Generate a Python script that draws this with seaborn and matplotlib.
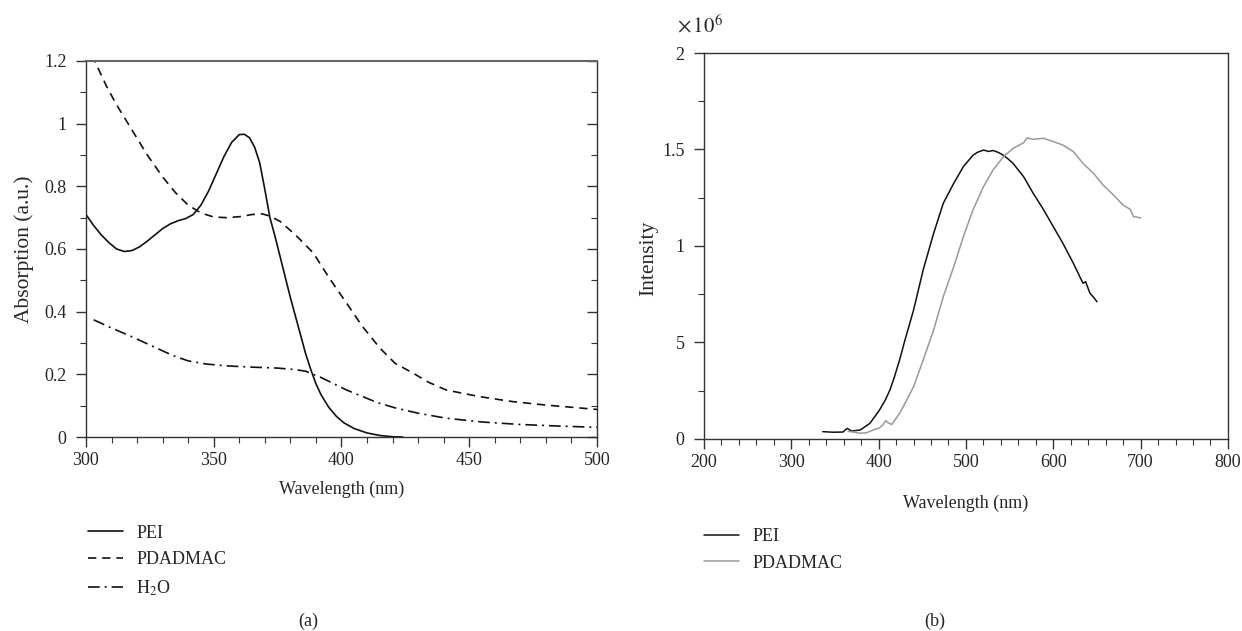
import numpy as np
import pandas as pd
import matplotlib
matplotlib.use('Agg')
import matplotlib.pyplot as plt
from matplotlib.ticker import MultipleLocator, FixedLocator, FixedFormatter
import seaborn as sns

# Absorption spectra (a)
abs_wl_pei = [300, 303, 306, 309, 312, 315, 318, 321, 324, 327, 330, 333, 336, 339, 342,
              345, 348, 351, 354, 357, 360, 362, 364, 366, 368, 370, 372, 374, 376, 378,
              380, 382, 384, 386, 388, 390, 392, 395, 398, 401, 405, 410, 415, 420, 424]
abs_pei = [0.71, 0.675, 0.645, 0.62, 0.60, 0.592, 0.595, 0.607, 0.625, 0.645, 0.665, 0.68,
           0.69, 0.697, 0.71, 0.74, 0.785, 0.84, 0.895, 0.94, 0.965, 0.966, 0.955, 0.925,
           0.875, 0.79, 0.70, 0.64, 0.575, 0.51, 0.445, 0.385, 0.325, 0.265, 0.215, 0.17,
           0.135, 0.095, 0.066, 0.045, 0.027, 0.013, 0.005, 0.001, 0.0]

abs_wl_pda = [300, 304, 308, 312, 318, 324, 330, 335, 340, 345, 350, 355, 360, 365, 369,
              372, 376, 382, 389, 395, 402, 408, 415, 421, 428, 434, 441, 454, 467, 480, 500]
abs_pda = [1.26, 1.19, 1.12, 1.06, 0.98, 0.90, 0.83, 0.78, 0.74, 0.715, 0.702, 0.70,
           0.703, 0.71, 0.712, 0.705, 0.688, 0.645, 0.587, 0.51, 0.427, 0.355, 0.284,
           0.235, 0.204, 0.175, 0.15, 0.129, 0.113, 0.102, 0.088]

abs_wl_h2o = [303, 310, 318, 326, 334, 340, 347, 355, 365, 375, 382, 386, 392, 397, 402,
              408, 414, 421, 430, 441, 455, 470, 485, 500]
abs_h2o = [0.374, 0.348, 0.32, 0.29, 0.26, 0.243, 0.233, 0.227, 0.223, 0.22, 0.215, 0.21,
           0.19, 0.17, 0.15, 0.13, 0.11, 0.093, 0.076, 0.06, 0.048, 0.04, 0.035, 0.031]

# Emission spectra (b), intensity x 10^6
em_wl_pei = [336, 348, 359, 364, 369, 379, 390, 401, 408, 413, 418, 424, 430, 440, 451, 463,
             474, 486, 497, 508, 513, 520, 526, 531, 537, 543, 548, 554, 566, 577, 589,
             600, 611, 623, 634, 637, 642, 646, 650]
em_pei = [0.038, 0.035, 0.036, 0.055, 0.041, 0.047, 0.081, 0.15, 0.205, 0.255, 0.32, 0.41,
          0.51, 0.668, 0.876, 1.066, 1.221, 1.325, 1.411, 1.47, 1.485, 1.497, 1.49, 1.495,
          1.485, 1.47, 1.452, 1.428, 1.359, 1.273, 1.187, 1.10, 1.014, 0.91, 0.807, 0.815,
          0.755, 0.735, 0.711]

em_wl_pda = [365, 372, 379, 386, 394, 401, 405, 408, 411, 415, 424, 432, 440, 451, 463,
             474, 486, 497, 508, 520, 531, 543, 554, 566, 570, 577, 589, 600, 611, 623,
             634, 646, 657, 669, 680, 688, 692, 696, 700]
em_pda = [0.04, 0.035, 0.03, 0.032, 0.047, 0.058, 0.073, 0.095, 0.083, 0.075, 0.133, 0.2,
          0.271, 0.409, 0.565, 0.737, 0.893, 1.048, 1.187, 1.307, 1.394, 1.463, 1.506,
          1.535, 1.56, 1.553, 1.558, 1.541, 1.523, 1.489, 1.428, 1.377, 1.316, 1.264,
          1.212, 1.19, 1.152, 1.15, 1.144]

int_ticks = [0, 0.5, 1, 1.5, 2]
int_labels = ['0', '5', '1', '1.5', '2']

sns.set_style('ticks')
plt.rcParams['font.family'] = ['Liberation Serif', 'DejaVu Serif']
plt.rcParams['mathtext.fontset'] = 'stix'
plt.rcParams['font.size'] = 13

fig = plt.figure(figsize=(12.42, 6.31), dpi=100)
ax1 = fig.add_axes([0.0692, 0.3074, 0.4115, 0.596])
ax2 = fig.add_axes([0.5668, 0.3043, 0.4219, 0.6117])

spine_col = '#333333'

# (a)
sns.lineplot(x=abs_wl_pei, y=abs_pei, ax=ax1, color='#111111', lw=1.2, label='PEI')
sns.lineplot(x=abs_wl_pda, y=abs_pda, ax=ax1, color='#111111', lw=1.2, label='PDADMAC')
sns.lineplot(x=abs_wl_h2o, y=abs_h2o, ax=ax1, color='#111111', lw=1.2, label='H$_2$O')
ax1.lines[1].set_linestyle((0, (5, 3.5)))
ax1.lines[2].set_linestyle((0, (7, 3, 1.2, 3)))
ax1.set_xlim(300, 500)
ax1.set_ylim(0, 1.2)
ax1.xaxis.set_major_locator(MultipleLocator(50))
ax1.xaxis.set_minor_locator(MultipleLocator(10))
ax1.yaxis.set_major_locator(FixedLocator([0, 0.2, 0.4, 0.6, 0.8, 1, 1.2]))
ax1.yaxis.set_major_formatter(FixedFormatter(['0', '0.2', '0.4', '0.6', '0.8', '1', '1.2']))
ax1.yaxis.set_minor_locator(MultipleLocator(0.1))
ax1.set_xlabel('Wavelength (nm)', fontsize=13, labelpad=8.5)
ax1.set_ylabel('Absorption (a.u.)', fontsize=15.5)
ax1.yaxis.set_label_coords(-0.1015, 0.5)
ax1.get_legend().remove()
h1, l1 = ax1.get_legend_handles_labels()
fig.legend(h1, l1, loc='upper left', bbox_to_anchor=(0.058, 0.1945), frameon=False,
           fontsize=13, handlelength=1.94, handletextpad=0.72, labelspacing=0.55)

# (b)
sns.lineplot(x=em_wl_pei, y=em_pei, ax=ax2, color='#111111', lw=1.1, label='PEI')
sns.lineplot(x=em_wl_pda, y=em_pda, ax=ax2, color='#999999', lw=1.1, label='PDADMAC')
ax2.set_xlim(200, 800)
ax2.set_ylim(0, 2)
ax2.xaxis.set_major_locator(MultipleLocator(100))
ax2.xaxis.set_minor_locator(MultipleLocator(20))
ax2.yaxis.set_major_locator(FixedLocator(int_ticks))
ax2.yaxis.set_major_formatter(FixedFormatter(int_labels))
ax2.yaxis.set_minor_locator(MultipleLocator(0.25))
ax2.set_xlabel('Wavelength (nm)', fontsize=13, labelpad=17.3)
ax2.set_ylabel('Intensity', fontsize=15.5)
ax2.yaxis.set_label_coords(-0.088, 0.469)
ax2.text(-0.0515, 1.07, r'$\times\,10^6$', transform=ax2.transAxes, fontsize=15,
         ha='left', va='center')
ax2.get_legend().remove()
h2, l2 = ax2.get_legend_handles_labels()
fig.legend(h2, l2, loc='upper left', bbox_to_anchor=(0.5541, 0.1892), frameon=False,
           fontsize=13, handlelength=1.94, handletextpad=0.72, labelspacing=0.55)

for ax in (ax1, ax2):
    for s in ax.spines.values():
        s.set_color(spine_col)
        s.set_linewidth(1.0)
    ax.tick_params(which='major', direction='out', length=7, width=1, color=spine_col,
                   labelsize=13)
    ax.tick_params(which='minor', direction='out', length=4, width=0.8, color=spine_col)
    ax.tick_params(axis='y', which='major', pad=7)

ax1.spines['top'].set_color('#666666')
ax1.spines['top'].set_linewidth(1.5)
ax1.tick_params(axis='y', which='both', right=True, labelright=False)
for t in ax1.yaxis.get_major_ticks() + ax1.yaxis.get_minor_ticks():
    t.tick2line.set_marker(matplotlib.lines.TICKLEFT)

fig.text(308 / 1242, 0.0158, '(a)', ha='center', va='center', fontsize=13)
fig.text(935 / 1242, 0.0158, '(b)', ha='center', va='center', fontsize=13)

fig.savefig('out.png', dpi=100)
